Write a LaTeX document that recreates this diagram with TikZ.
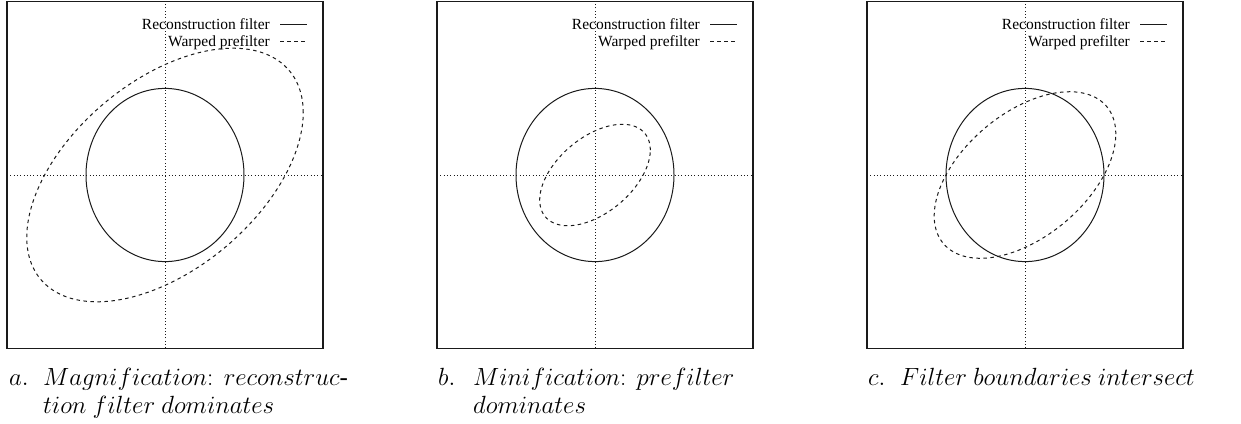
\documentclass[tikz,border=0pt]{standalone}
\usepackage{fontspec}
\setmainfont{Liberation Serif}
\usepackage{tikz}
\usetikzlibrary{positioning}
\definecolor{fink}{HTML}{1A1A1A}

\begin{document}
\begin{tikzpicture}[x=1pt,y=-1pt,
    plotframe/.style={fink,line width=1.1pt},
    zeroaxis/.style={fink,line width=0.9pt,dash pattern=on 0.9pt off 2.4pt},
    recon/.style={fink,line width=1pt},
    warped/.style={fink,line width=1pt,dash pattern=on 3.5pt off 3.5pt},
    legtext/.style={font=\fontsize{15.5}{17}\selectfont,inner sep=0pt,anchor=base east},
    captext/.style={font=\fontsize{24.88}{28}\selectfont,inner sep=0pt,anchor=base west}]
  \useasboundingbox (0,0) rectangle (1241,423);

  % the three plots
  \foreach \px/\s/\tag in {7/2.5/a,437/1/b,867/1.642/c}{
    \node[legtext] (rec\tag)  at (\px+263,29) {Reconstruction filter};
    \node[legtext] (warp\tag) at (\px+263,46) {Warped prefilter};
    \draw[recon]  (\px+273,24) -- ++(27,0);
    \draw[warped] (\px+273,41) -- ++(27,0);
    \begin{scope}[shift={(\px+158,175)},x=79pt,y=86.6pt]
      \draw[plotframe] (-2,-2) rectangle (2,2);
      \draw[zeroaxis] (-2,0) -- (2,0);
      \draw[zeroaxis] (0,-2) -- (0,2);
      \draw[recon] plot[domain=0:360,samples=120,smooth] ({cos(\x)},{sin(\x)});
      \draw[warped] plot[domain=0:360,samples=120,smooth]
        ({\s*0.7*cos(\x)},{\s*(0.288*cos(\x)+0.51*sin(\x))});
    \end{scope}
  }

  % captions
  \node[captext] (labA) at (9,385) {$a.$};
  \node[captext] (capA) at (43,385) {$Magnification\colon\ reconstruc$\mbox{-}};
  \node[captext] (capA2) at (43,413) {$tion\ filter\ dominates$};
  \node[captext] (labB) at (438,385) {$b.$};
  \node[captext] (capB) at (473,385) {$Minification\colon\ prefilter$};
  \node[captext] (capB2) at (473,413) {$dominates$};
  \node[captext] (labC) at (868,385) {$c.$};
  \node[captext] (capC) at (900,385) {$Filter\ boundaries\ intersect$};
\end{tikzpicture}
\end{document}
